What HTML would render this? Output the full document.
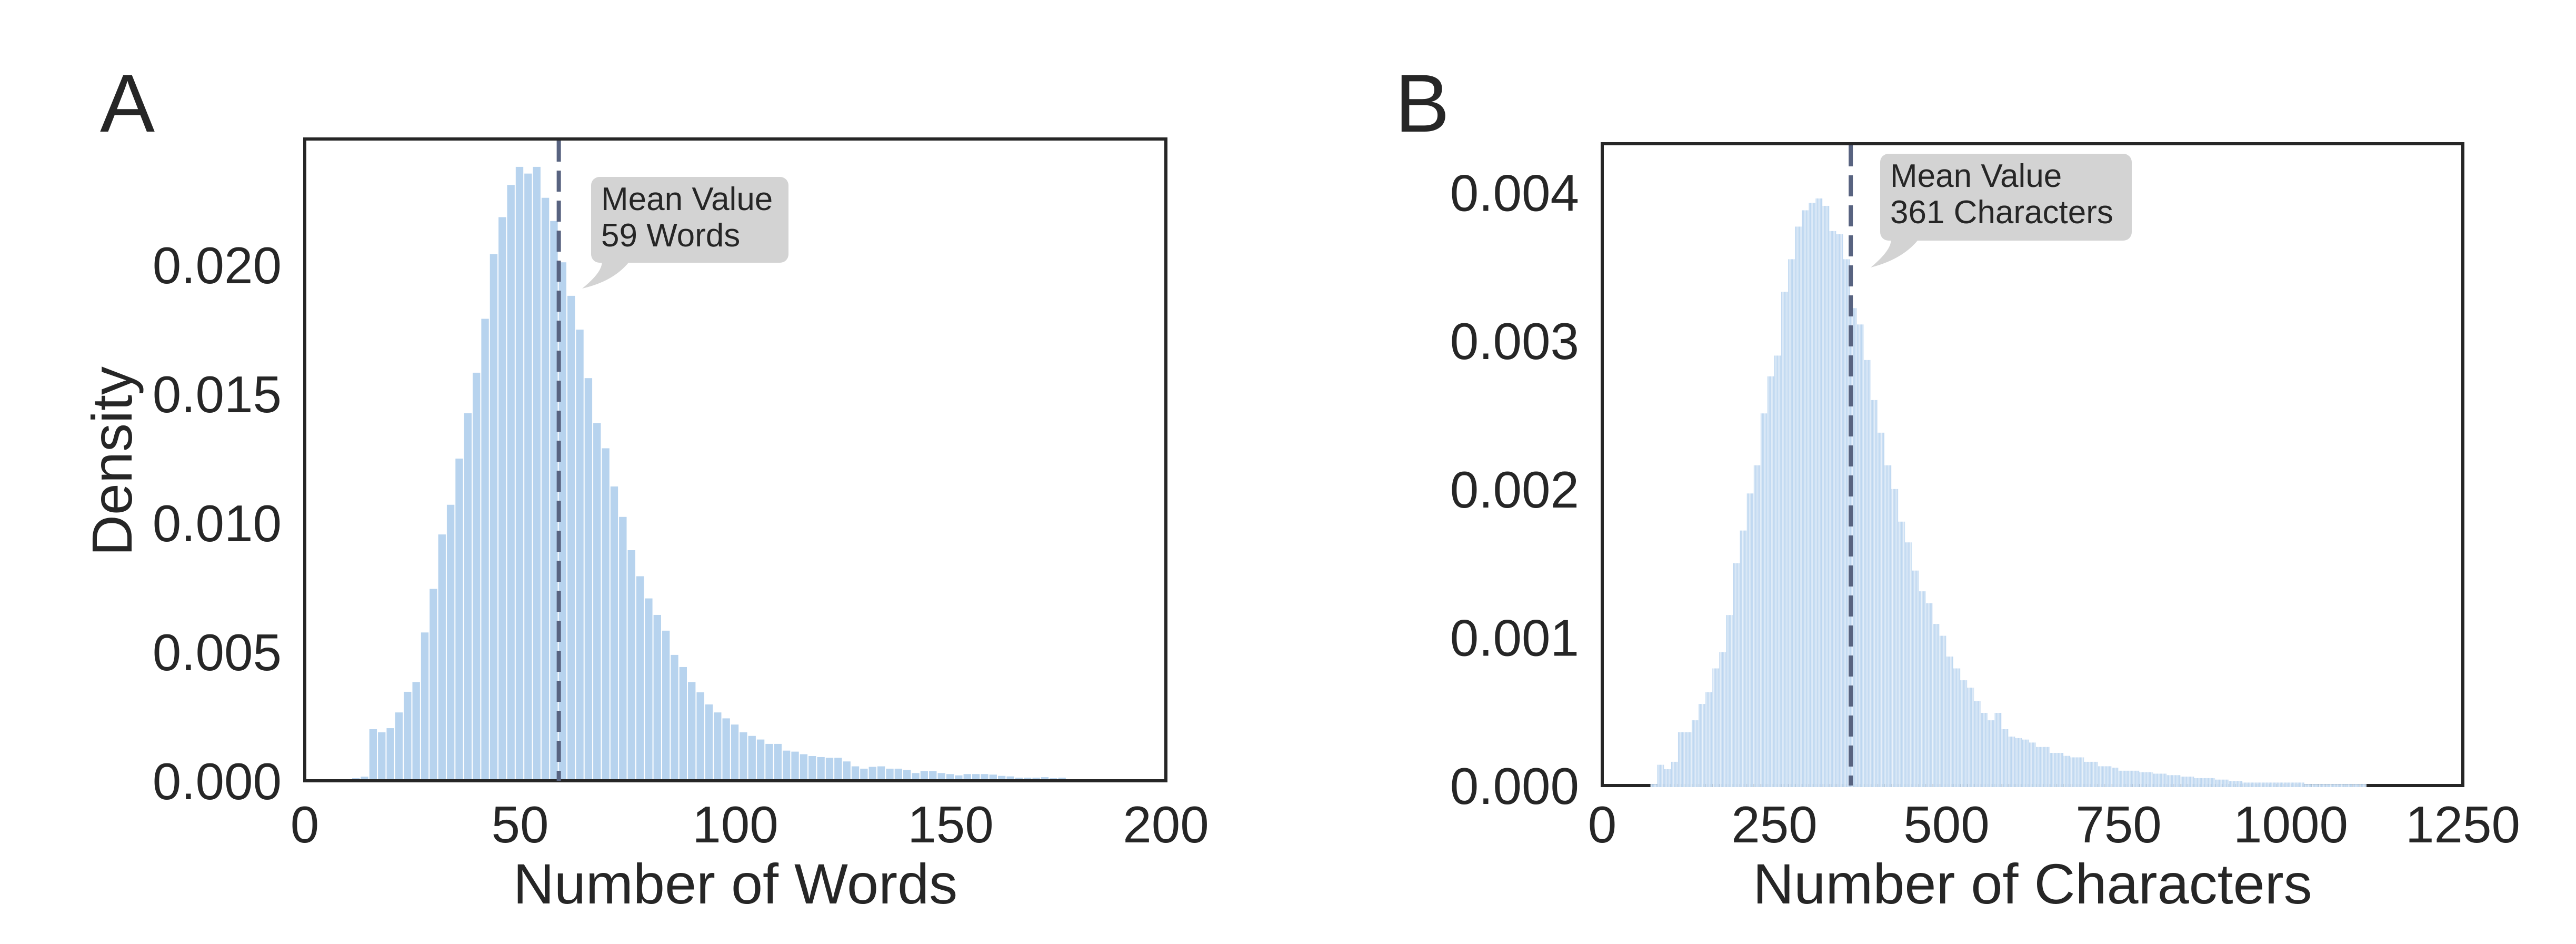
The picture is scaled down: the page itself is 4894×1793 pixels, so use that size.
<!DOCTYPE html>
<html><head><meta charset="utf-8"><style>
html,body{margin:0;padding:0;background:#fff}
svg{display:block}
text{font-family:"Liberation Sans",Arial,sans-serif;fill:#262626}
</style></head><body>
<svg id="fig" width="4894" height="1793" viewBox="0 0 4894 1793" xmlns="http://www.w3.org/2000/svg">
<defs>
<pattern id="stripes" patternUnits="userSpaceOnUse" width="2.616" height="10" x="3044">
<rect width="1.7" height="10" fill="#bcd6f0"/>
<rect x="1.7" width="0.916" height="10" fill="#eef4fb"/>
</pattern>
</defs>
<rect width="4894" height="1793" fill="#fff"/>
<g id="panelA"></g>
<g id="panelB"></g>
</svg>
<script>
// Panel A data (bin width 2 words, starting at 11)
const wordsBinStart = 11;
const wordsBinWidth = 2;
const wordsDensity = [0.0001,0.00016,0.0020,0.00188,0.00204,0.00265,0.00345,0.00383,0.00575,0.00744,0.00955,0.0107,0.01249,0.01425,0.01582,0.01791,0.02042,0.02185,0.0231,0.0238,0.02354,0.0238,0.0226,0.0217,0.0201,0.0188,0.01749,0.01561,0.01387,0.01289,0.01141,0.01023,0.00894,0.00793,0.00707,0.00643,0.00582,0.00488,0.00441,0.00383,0.00343,0.00296,0.00265,0.00242,0.00218,0.00188,0.00174,0.0016,0.00143,0.00143,0.00117,0.00113,0.00103,0.00096,0.00092,0.00089,0.00089,0.00075,0.00056,0.00047,0.00054,0.00056,0.00047,0.00047,0.00042,0.0003,0.00038,0.00038,0.0003,0.00026,0.00021,0.00026,0.00026,0.00026,0.00024,0.00019,0.00017,0.00012,0.00012,0.00012,0.00014,0.0001,0.00012,0.00006,0.00006,0.00006,0.00005,0.00005,0.00005,0.00005,0.00004];
const wordsXTicks = [0,50,100,150,200];
const wordsYTicks = [0,0.005,0.010,0.015,0.020];
const wordsYTickLabels = ["0.000","0.005","0.010","0.015","0.020"];
const wordsMean = 59;

// Panel B data (bin width 10 chars, starting at 70)
const charsBinStart = 70;
const charsBinWidth = 10;
const charsDensity = [0.00001,0.00014,0.00011,0.00016,0.00036,0.00036,0.00044,0.00055,0.00063,0.00079,0.0009,0.00115,0.0015,0.00172,0.00197,0.00216,0.00251,0.00276,0.0029,0.00333,0.00355,0.00377,0.00388,0.00393,0.00396,0.00391,0.00374,0.00372,0.00355,0.00322,0.00311,0.00287,0.0026,0.00238,0.00216,0.002,0.00178,0.00164,0.00145,0.00131,0.00123,0.00109,0.00101,0.00087,0.00079,0.00071,0.00066,0.00057,0.00049,0.00044,0.00049,0.00038,0.00033,0.00032,0.00031,0.00029,0.00026,0.00026,0.00022,0.00022,0.0002,0.00019,0.00019,0.00016,0.00016,0.00013,0.00013,0.00012,0.0001,0.0001,0.0001,0.00009,0.00009,0.00008,0.00008,0.00007,0.00007,0.00006,0.00006,0.00005,0.00005,0.00005,0.00004,0.00004,0.00003,0.00003,0.00002,0.00002,0.00002,0.00002,0.00002,0.00002,0.00002,0.00002,0.00002,0.00001,0.00001,0.00001,0.00001,0.00001,0.00001,0.00001,0.00001,0.00001];
const charsXTicks = [0,250,500,750,1000,1250];
const charsYTicks = [0,0.001,0.002,0.003,0.004];
const charsYTickLabels = ["0.000","0.001","0.002","0.003","0.004"];
const charsMean = 361;

const NS = "http://www.w3.org/2000/svg";
function mk(tag, attrs, parent){
  const e = document.createElementNS(NS, tag);
  for (const k in attrs) e.setAttribute(k, attrs[k]);
  parent.appendChild(e);
  return e;
}

function drawPanel(cfg){
  const g = document.getElementById(cfg.id);
  const L=cfg.L,R=cfg.R,T=cfg.T,B=cfg.B;
  const xs = v => L + (v - cfg.xmin)/(cfg.xmax-cfg.xmin)*(R-L);
  const ys = v => B - v/cfg.ymax*(B-T);
  const box = mk('rect',{x:L,y:T,width:R-L,height:B-T,fill:'none',stroke:'#262626','stroke-width':6},g);
  
  
  const bars = mk('g',{},g);
  
  
  cfg.data.forEach((v,i)=>{
    const x0 = xs(cfg.binStart + i*cfg.binWidth), x1 = xs(cfg.binStart + (i+1)*cfg.binWidth);
    const y = ys(v);
    const r = mk('rect',{x:x0,y:y,width:Math.max(0.5,x1-x0-cfg.gap),height:(cfg.barBottom)-y,fill:cfg.fill},bars);
    
    
  });
  const mx = xs(cfg.mean);
  const ml = mk('line',{x1:mx,y1:T+3,x2:mx,y2:B,stroke:'#586380','stroke-width':8,'stroke-dasharray':'40 17'},g);
  
  
  cfg.xTicks.forEach(t=>{
    const tx = mk('text',{x:xs(t),y:1600,'font-size':98,'text-anchor':'middle'},g);
    tx.textContent = t;
    
    
  });
  cfg.yTicks.forEach((t,i)=>{
    const ty = mk('text',{x:cfg.yLabelRight,y:ys(t)+35,'font-size':98,'text-anchor':'end'},g);
    ty.textContent = cfg.yTickLabels[i];
    
    
  });
  const xt = mk('text',{x:(L+R)/2,y:1716,'font-size':108,'text-anchor':'middle'},g);
  xt.textContent = cfg.xTitle;
  
  
  const c = cfg.callout;
  const cg = mk('g',{},g);
  
  
  mk('path',{d:`M${c.x+20},${c.y+c.h-5} L${c.x+75},${c.y+c.h-5} Q${c.x+45},${c.y+c.h+35} ${c.tipX},${c.tipY} Q${c.x+25},${c.y+c.h+15} ${c.x+20},${c.y+c.h-5} Z`,fill:'#d3d3d3'},cg);
  mk('rect',{x:c.x,y:c.y,width:c.w,height:c.h,rx:16,fill:'#d3d3d3'},cg);
  const t1 = mk('text',{x:c.x+19,y:c.y+63,'font-size':62},cg);
  t1.textContent = 'Mean Value';
  
  
  const t2 = mk('text',{x:c.x+19,y:c.y+132,'font-size':62},cg);
  t2.textContent = c.line2;
  
  
  const pl = mk('text',{x:cfg.letterX,y:250,'font-size':156},g);
  pl.textContent = cfg.letter;
  
  
}

drawPanel({id:'panelA',prefix:'panel-a',L:579,R:2215,T:264,B:1483,xmin:0,xmax:200,ymax:0.02488,
  data:wordsDensity,binStart:wordsBinStart,binWidth:wordsBinWidth,gap:2,fill:'#b7d3ee',barBottom:1480,
  mean:wordsMean,xTicks:wordsXTicks,yTicks:wordsYTicks,yTickLabels:wordsYTickLabels,yLabelRight:535,
  xTitle:'Number of Words',callout:{x:1123,y:336,w:375,h:163,tipX:1106,tipY:548,line2:'59 Words'},
  letter:'A',letterX:190});
drawPanel({id:'panelB',prefix:'panel-b',L:3044,R:4679,T:273,B:1492,xmin:0,xmax:1250,ymax:0.004329,
  data:charsDensity,binStart:charsBinStart,binWidth:charsBinWidth,gap:0,fill:'url(#stripes)',barBottom:1495,
  mean:charsMean,xTicks:charsXTicks,yTicks:charsYTicks,yTickLabels:charsYTickLabels,yLabelRight:3000,
  xTitle:'Number of Characters',callout:{x:3572,y:292,w:478,h:165,tipX:3554,tipY:508,line2:'361 Characters'},
  letter:'B',letterX:2650});

const yt = document.createElementNS(NS,'text');
yt.setAttribute('x',0);yt.setAttribute('y',0);
yt.setAttribute('font-size',108);
yt.setAttribute('text-anchor','middle');
yt.setAttribute('transform','translate(250,876) rotate(-90)');
yt.textContent='Density';


document.getElementById('panelA').appendChild(yt);
</script>
</body></html>
